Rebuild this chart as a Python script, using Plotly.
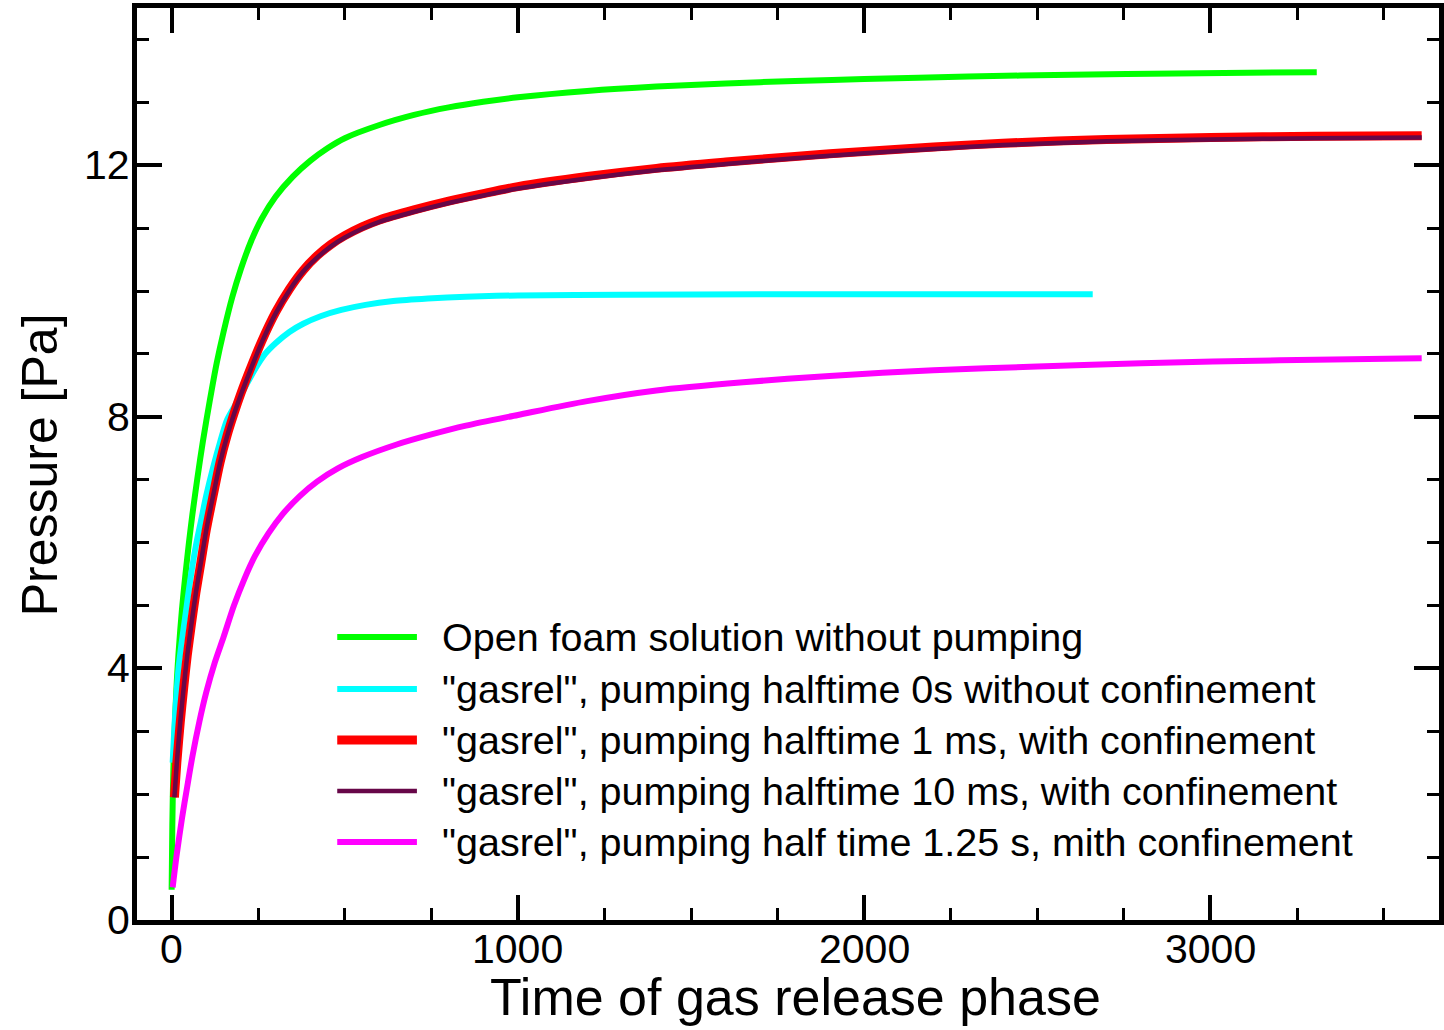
import plotly.graph_objects as go

# Pressure build-up during the gas release phase
t_open = [0, 2, 5, 10, 15, 20, 30, 40, 50, 60, 75, 90, 110, 130, 150, 175, 200, 230,
          260, 300, 350, 400, 450, 500, 600, 700, 800, 900, 1000, 1200, 1400, 1600,
          1800, 2000, 2300, 2600, 2900, 3307]
p_open = [0.48, 1.5, 2.4, 3.2, 3.8, 4.25, 4.95, 5.5, 6.0, 6.45, 7.05, 7.6, 8.25, 8.85,
          9.35, 9.9, 10.35, 10.8, 11.15, 11.5, 11.82, 12.07, 12.27, 12.43, 12.64, 12.8,
          12.92, 13.01, 13.08, 13.18, 13.25, 13.3, 13.34, 13.37, 13.41, 13.44, 13.46,
          13.48]

t_hal0 = [3, 10, 20, 30, 40, 55, 70, 85, 100, 120, 140, 160, 185, 210, 240, 270, 300,
          340, 380, 430, 490, 560, 640, 740, 850, 1000, 1300, 1700, 2200, 2660]
p_hal0 = [2.5, 3.25, 4.0, 4.45, 4.85, 5.45, 5.95, 6.35, 6.75, 7.2, 7.6, 7.95, 8.2,
          8.45, 8.75, 9.0, 9.17, 9.35, 9.48, 9.6, 9.7, 9.78, 9.84, 9.88, 9.91, 9.93,
          9.94, 9.95, 9.95, 9.95]

t_hal1ms = [8, 15, 25, 35, 45, 57, 70, 85, 100, 120, 140, 160, 180, 200, 230, 260,
            300, 340, 380, 420, 460, 500, 550, 600, 700, 800, 900, 1000, 1200, 1400,
            1600, 1800, 2000, 2200, 2400, 2700, 3000, 3300, 3610]
p_hal1ms = [1.95, 2.5, 3.15, 3.7, 4.2, 4.7, 5.2, 5.7, 6.2, 6.75, 7.28, 7.7, 8.05, 8.37,
            8.8, 9.2, 9.66, 10.03, 10.33, 10.56, 10.74, 10.88, 11.02, 11.13, 11.29,
            11.43, 11.55, 11.66, 11.82, 11.95, 12.05, 12.14, 12.22, 12.29, 12.35, 12.41,
            12.44, 12.46, 12.47]

t_hal10ms = [8, 15, 25, 35, 45, 57, 70, 85, 100, 120, 140, 160, 180, 200, 230, 260,
             300, 340, 380, 420, 460, 500, 550, 600, 700, 800, 900, 1000, 1200, 1400,
             1600, 1800, 2000, 2200, 2400, 2700, 3000, 3300, 3610]
p_hal10ms = [1.95, 2.5, 3.15, 3.7, 4.2, 4.7, 5.2, 5.7, 6.2, 6.75, 7.27, 7.69, 8.04,
             8.35, 8.78, 9.18, 9.64, 10.01, 10.31, 10.53, 10.71, 10.85, 10.99, 11.1,
             11.26, 11.4, 11.52, 11.63, 11.79, 11.92, 12.02, 12.11, 12.19, 12.26, 12.32,
             12.38, 12.41, 12.43, 12.44]

t_hal125 = [3, 15, 30, 45, 60, 80, 100, 125, 150, 180, 210, 240, 280, 320, 370, 420,
            480, 550, 650, 750, 850, 1000, 1200, 1400, 1650, 1900, 2200, 2500, 2800,
            3200, 3610]
p_hal125 = [0.52, 1.05, 1.62, 2.12, 2.6, 3.15, 3.62, 4.1, 4.5, 5.0, 5.42, 5.78, 6.15,
            6.45, 6.74, 6.97, 7.18, 7.36, 7.56, 7.72, 7.86, 8.03, 8.25, 8.42, 8.55,
            8.65, 8.74, 8.8, 8.85, 8.9, 8.93]

labels = [
    "Open foam solution without pumping",
    "\"gasrel\", pumping halftime 0s without confinement",
    "\"gasrel\", pumping halftime 1 ms, with confinement",
    "\"gasrel\", pumping halftime 10 ms, with confinement",
    "\"gasrel\", pumping half time 1.25 s, mith confinement",
]
colors = ["#00ff00", "#00ffff", "#ff0000", "#670748", "#ff00ff"]
widths = [6, 6, 9, 4.5, 6]
series = [(t_open, p_open), (t_hal0, p_hal0), (t_hal1ms, p_hal1ms),
          (t_hal10ms, p_hal10ms), (t_hal125, p_hal125)]

x_ticks = [0, 1000, 2000, 3000]
y_ticks = [0, 4, 8, 12]

FONT = "Liberation Sans, Arial, Helvetica, sans-serif"

fig = go.Figure()
for (t, p), name, c, w in zip(series, labels, colors, widths):
    fig.add_trace(go.Scatter(
        x=t, y=p, mode="lines", name=name,
        line=dict(color=c, width=w, shape="spline", smoothing=0.8),
        showlegend=False,
    ))

# Plot-area geometry in page pixels
L, R, T, B = 137, 1444, 8, 920
W, H = R - L, B - T


def px_x(px):
    return (px - L) / W


def px_y(py):
    return (B - py) / H


shapes = []
annotations = []

# Legend drawn inside the plot area
row_y = [637, 689, 740, 791, 842]
for yy, name, c, w in zip(row_y, labels, colors, widths):
    shapes.append(dict(type="line", xref="paper", yref="paper",
                       x0=px_x(338), x1=px_x(418), y0=px_y(yy), y1=px_y(yy),
                       line=dict(color=c, width=w)))
    annotations.append(dict(xref="paper", yref="paper", x=px_x(441), y=px_y(yy),
                            text=name, showarrow=False, xanchor="left",
                            yanchor="middle",
                            font=dict(size=39.5, color="black", family=FONT)))

# Tick labels
for v in x_ticks:
    annotations.append(dict(xref="x", yref="paper", x=v, y=px_y(949), text=str(v),
                            showarrow=False, xanchor="center", yanchor="middle",
                            font=dict(size=41, color="black", family=FONT)))
for v in y_ticks:
    annotations.append(dict(xref="paper", yref="y", x=px_x(132), y=v, text=str(v),
                            showarrow=False, xanchor="right", yanchor="middle",
                            font=dict(size=41, color="black", family=FONT)))

# Axis titles
annotations.append(dict(xref="paper", yref="paper", x=px_x(798), y=px_y(997),
                        text="Time of gas release phase", showarrow=False,
                        xanchor="center", yanchor="middle",
                        font=dict(size=52, color="black", family=FONT)))
annotations.append(dict(xref="paper", yref="paper", x=px_x(40), y=px_y(465),
                        text="Pressure [Pa]", showarrow=False, textangle=-90,
                        xanchor="center", yanchor="middle",
                        font=dict(size=50, color="black", family=FONT)))

axis_common = dict(
    showgrid=False, zeroline=False, showticklabels=False,
    showline=True, linewidth=5, linecolor="black", mirror="ticks",
    ticks="inside", ticklen=25, tickwidth=4, tickcolor="black",
    tickmode="array",
)

fig.update_layout(
    width=1444, height=1030,
    margin=dict(l=L, r=1444 - R, t=T, b=1030 - B),
    paper_bgcolor="white", plot_bgcolor="white",
    font=dict(family=FONT, color="black"),
    shapes=shapes, annotations=annotations,
    xaxis=dict(
        range=[-100, 3660], tickvals=x_ticks,
        minor=dict(ticks="inside", ticklen=12, tickwidth=3, tickcolor="black",
                   dtick=250, tick0=0, showgrid=False),
        **axis_common,
    ),
    yaxis=dict(
        range=[0, 14.5], tickvals=y_ticks,
        minor=dict(ticks="inside", ticklen=12, tickwidth=3, tickcolor="black",
                   dtick=1, tick0=0, showgrid=False),
        **axis_common,
    ),
)

fig.write_html("out.html")
